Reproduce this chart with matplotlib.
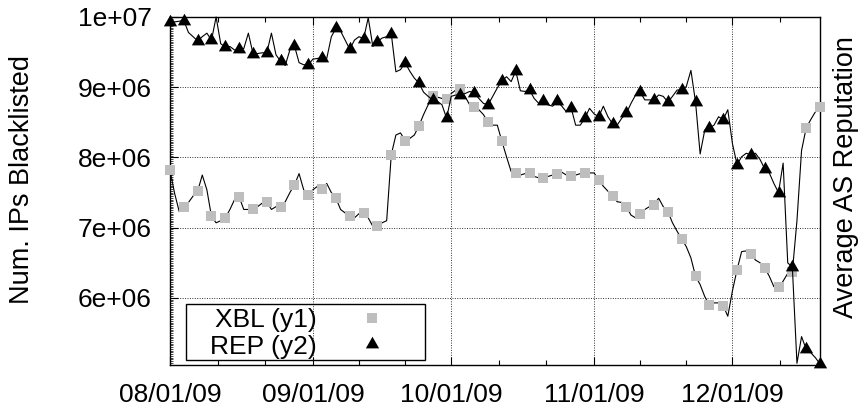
import matplotlib
matplotlib.use("Agg")
import matplotlib.pyplot as plt
import numpy as np
from matplotlib.patches import Rectangle
from matplotlib.lines import Line2D

plt.rcParams["font.family"] = ["Liberation Sans", "DejaVu Sans"]

# daily values, one per day starting 08/01/09 (last one is 12/20/09)
XBL_MILLIONS = [
    7.82, 7.49, 7.23, 7.29, 7.36, 7.45, 7.52, 7.75, 7.54, 7.16,
    7.07, 7.10, 7.14, 7.26, 7.40, 7.44, 7.26, 7.26, 7.26, 7.30,
    7.35, 7.37, 7.26, 7.30, 7.29, 7.37, 7.50, 7.61, 7.77, 7.54,
    7.47, 7.54, 7.59, 7.55, 7.63, 7.50, 7.42, 7.26, 7.21, 7.16,
    7.14, 7.20, 7.21, 7.14, 7.02, 7.02, 7.07, 7.10, 8.04, 8.32,
    8.35, 8.24, 8.27, 8.32, 8.45, 8.61, 8.75, 8.88, 8.86, 8.84,
    8.83, 8.91, 8.96, 8.97, 8.87, 8.75, 8.72, 8.68, 8.61, 8.50,
    8.46, 8.46, 8.23, 8.01, 7.80, 7.78, 7.75, 7.77, 7.78, 7.73,
    7.71, 7.71, 7.73, 7.75, 7.77, 7.79, 7.75, 7.74, 7.75, 7.77,
    7.78, 7.78, 7.78, 7.68, 7.59, 7.52, 7.45, 7.37, 7.36, 7.30,
    7.18, 7.14, 7.20, 7.26, 7.30, 7.33, 7.42, 7.30, 7.23, 7.07,
    6.95, 6.84, 6.73, 6.57, 6.31, 6.19, 6.02, 5.90, 5.93, 5.93,
    5.89, 5.74, 6.10, 6.40, 6.66, 6.67, 6.63, 6.54, 6.50, 6.43,
    6.31, 6.16, 6.15, 6.24, 6.35, 6.37, 7.10, 8.10, 8.42, 8.54,
    8.65, 8.72,
]

REP_SCORE = [
    9.93, 9.93, 9.94, 9.95, 9.78, 9.72, 9.66, 9.72, 9.77, 9.67,
    10.00, 9.62, 9.57, 9.58, 9.53, 9.54, 9.55, 9.77, 9.48, 9.48,
    9.49, 9.49, 9.77, 9.46, 9.37, 9.31, 9.53, 9.59, 9.35, 9.32,
    9.32, 9.40, 9.41, 9.42, 9.41, 9.72, 9.84, 9.80, 9.67, 9.54,
    9.67, 9.72, 9.69, 9.99, 9.58, 9.65, 9.70, 9.72, 9.76, 9.22,
    9.25, 9.35, 9.23, 9.13, 9.06, 8.93, 8.87, 8.82, 8.80, 8.75,
    8.56, 8.87, 8.89, 8.89, 8.91, 8.94, 8.92, 8.84, 8.77, 8.75,
    8.87, 8.99, 9.09, 9.15, 9.08, 9.23, 8.95, 8.94, 8.96, 8.84,
    8.77, 8.80, 8.75, 8.73, 8.80, 8.73, 8.65, 8.71, 8.46, 8.46,
    8.56, 8.70, 8.62, 8.58, 8.73, 8.58, 8.48, 8.46, 8.56, 8.63,
    8.77, 8.89, 8.93, 8.82, 8.82, 8.82, 8.89, 8.87, 8.79, 8.87,
    8.96, 8.96, 9.01, 9.24, 8.79, 8.05, 8.39, 8.42, 8.46, 8.58,
    8.54, 8.68, 8.20, 7.90, 8.01, 8.06, 8.04, 8.06, 7.97, 7.84,
    7.78, 7.63, 7.50, 7.92, 6.50, 6.44, 5.07, 5.45, 5.27, 5.22,
    5.15, 5.06,
]

MONTH_LABELS = ["08/01/09", "09/01/09", "10/01/09", "11/01/09", "12/01/09"]
MONTH_DAYS = [0, 31, 61, 92, 122, 153]  # day offsets of month starts
Y_TICKS = [6e6, 7e6, 8e6, 9e6, 1e7]
Y_TICK_LABELS = ["6e+06", "7e+06", "8e+06", "9e+06", "1e+07"]

GRAY = "#bebebe"
FS = 19
# gnuplot style filled triangle, data point sits at the centroid
TRIANGLE = [(0, 2 / 3), (-0.57, -1 / 3), (0.57, -1 / 3), (0, 2 / 3)]

days = np.arange(len(XBL_MILLIONS))
xbl = np.array(XBL_MILLIONS) * 1e6
rep = np.array(REP_SCORE)

fig = plt.figure(figsize=(8.63, 4.09), dpi=100)
ax = fig.add_axes([170 / 863, 44.3 / 409, 650 / 863, 347.7 / 409])
ax2 = ax.twinx()

ax.plot(days, xbl, color="black", lw=0.8, marker="s", markevery=3, ms=7.7,
        mfc=GRAY, mec=GRAY, mew=0, zorder=3, clip_on=False)
ax2.plot(days, rep, color="black", lw=0.8, marker=TRIANGLE, markevery=3, ms=11.2,
         mfc="black", mec="black", mew=0, zorder=3, clip_on=False)

ax.set_xlim(0, days[-1])
ax.set_ylim(5.05e6, 1e7)
ax2.set_ylim(5.05, 10.0)

# x axis: month starts as major tics, each month cut in three for minors
ax.set_xticks(MONTH_DAYS[:5])
ax.set_xticklabels(MONTH_LABELS)
minors = []
for a, b in zip(MONTH_DAYS[:-1], MONTH_DAYS[1:]):
    minors += [a + (b - a) / 3, a + 2 * (b - a) / 3]
ax.set_xticks([m for m in minors if m <= days[-1]], minor=True)

ax.set_yticks(Y_TICKS)
ax.set_yticklabels(Y_TICK_LABELS)
ax.set_yticks(np.arange(5.05e6, 1e7, 25000), minor=True)

ax.tick_params(axis="x", which="both", direction="in", top=True, labelsize=FS, pad=13)
ax.tick_params(axis="x", which="major", length=6, width=0.8)
ax.tick_params(axis="x", which="minor", length=3.5, width=0.8)
ax.tick_params(axis="y", which="major", direction="in", length=6, width=0.8,
               labelsize=FS, pad=13, right=False)
ax.tick_params(axis="y", which="minor", direction="in", length=2.5, width=0.5, right=False)
ax2.set_yticks([])
for s in ax2.spines.values():
    s.set_visible(False)
for s in ax.spines.values():
    s.set_linewidth(1.0)

ax.grid(True, which="major", color="#333333", linestyle=(0, (1, 1.5)), lw=0.7)
ax.set_axisbelow(True)

# legend box, gnuplot style (text first, sample after)
ax2.add_patch(Rectangle((0.0246, 0.0135), 0.3677, 0.1611, transform=ax2.transAxes,
                        fill=False, edgecolor="black", lw=1.0, zorder=5))
ax2.text(0.2262, 0.1093, "XBL (y1)", transform=ax2.transAxes, ha="right",
         va="baseline", fontsize=FS, zorder=6)
ax2.text(0.2262, 0.0308, "REP (y2)", transform=ax2.transAxes, ha="right",
         va="baseline", fontsize=FS, zorder=6)
ax2.add_line(Line2D([0.3103], [0.1352], transform=ax2.transAxes, marker="s", ms=7.7,
                    mfc=GRAY, mec=GRAY, mew=0, zorder=6))
ax2.add_line(Line2D([0.3103], [0.0594], transform=ax2.transAxes, marker=TRIANGLE,
                    ms=11.2, mfc="black", mec="black", mew=0, zorder=6))

fig.text(22 / 863, 1 - 180 / 409, "Num. IPs Blacklisted", rotation=90,
         ha="center", va="center", fontsize=19.5)
fig.text(846 / 863, 1 - 177 / 409, "Average AS Reputation", rotation=90,
         ha="center", va="center", fontsize=19.5)

fig.savefig("out.png", dpi=100, facecolor="white")
plt.close(fig)
